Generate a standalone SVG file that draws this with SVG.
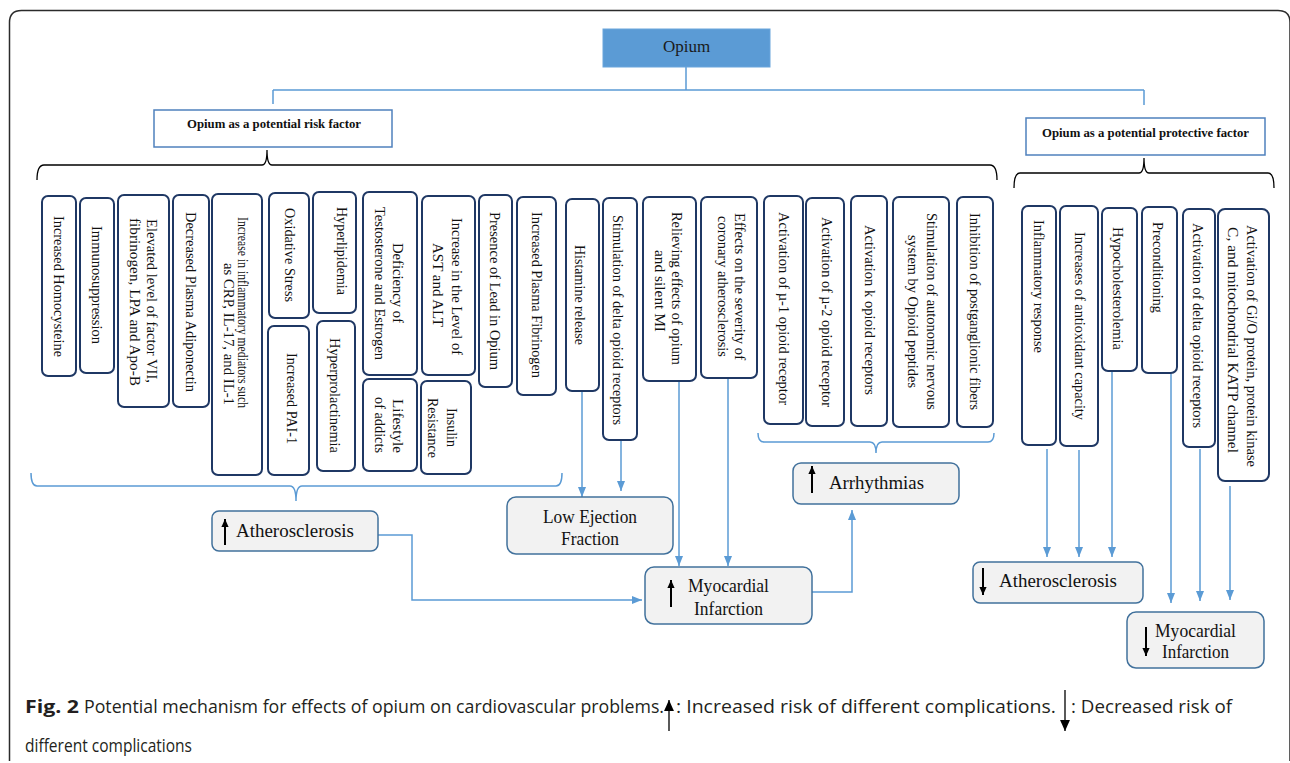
<svg xmlns="http://www.w3.org/2000/svg" width="1290" height="763" viewBox="0 0 1290 763">
<defs>
<style>
.nb{fill:#fff;stroke:#1f3864;stroke-width:2}
.nt{font-family:"Liberation Serif",serif;font-size:14.5px;fill:#111}
.ob{fill:#f2f2f2;stroke:#41719c;stroke-width:1.5}
.ot{font-family:"Liberation Serif",serif;font-size:18.5px;fill:#111}
.hb{fill:#fff;stroke:#4f81bd;stroke-width:1.5}
.ht{font-family:"Liberation Serif",serif;font-size:12.75px;font-weight:bold;fill:#111}
.c{fill:none;stroke:#5b9bd5;stroke-width:1.5}
.br{fill:none;stroke:#000;stroke-width:1.3}
.ba{stroke:#000;stroke-width:2;fill:none}
.cap{font-family:"Open Sans",sans-serif;font-size:18.5px;fill:#231f20}
.capb{font-family:"Open Sans",sans-serif;font-size:18.5px;font-weight:bold;fill:#231f20}
</style>
<marker id="ah" viewBox="0 0 10 10" refX="10" refY="5" markerWidth="10" markerHeight="10" markerUnits="userSpaceOnUse" orient="auto"><path d="M0,1 L10,5 L0,9 z" fill="#5b9bd5"/></marker>
<marker id="bk" viewBox="0 0 10 10" refX="10" refY="5" markerWidth="9" markerHeight="8" markerUnits="userSpaceOnUse" orient="auto"><path d="M0,0.5 L10,5 L0,9.5 z" fill="#000"/></marker>
<marker id="bk2" viewBox="0 0 10 10" refX="10" refY="5" markerWidth="14" markerHeight="11" markerUnits="userSpaceOnUse" orient="auto"><path d="M0,0.5 L10,5 L0,9.5 z" fill="#000"/></marker>
</defs>
<path d="M9.5,761 L9.5,22.5 Q9.5,10.5 21.5,10.5 L1278,10.5 Q1290,10.5 1290,22.5 L1290,761" fill="none" stroke="#2b2b2b" stroke-width="1.5"/>

<g id="connectors">
<path class="c" d="M686,67 V90 M273,90 H1144 M273,90 V104 M1144,90 V105" stroke-width="1.2"/>
<path class="br" d="M37,180 Q37,165 44,165 L262,165 Q267,165 267,150 Q267,165 272,165 L990,165 Q997,165 997,180"/>
<path class="br" d="M1014,188 Q1014,173 1020,173 L1139,173 Q1144,173 1144,158 Q1144,173 1149,173 L1268,173 Q1274,173 1274,188"/>
<path class="c" d="M31,473 Q31,486 37,486 L290,486 Q296,486 296,501 Q296,486 302,486 L556,486 Q562,486 562,473"/>
<path class="c" d="M758,433 Q758,442 764,442 L870,442 Q876,442 876,453 Q876,442 882,442 L988,442 Q994,442 994,433"/>
<path class="c" marker-end="url(#ah)" d="M582,391 V497"/>
<path class="c" marker-end="url(#ah)" d="M621,440 V491"/>
<path class="c" marker-end="url(#ah)" d="M679,381 V566"/>
<path class="c" marker-end="url(#ah)" d="M728,378 V566"/>
<path class="c" marker-end="url(#ah)" d="M378,535 H412 V600 H642"/>
<path class="c" marker-end="url(#ah)" d="M812,592 H852 V510"/>
<path class="c" marker-end="url(#ah)" d="M1047,449 V557"/>
<path class="c" marker-end="url(#ah)" d="M1079,450 V557"/>
<path class="c" marker-end="url(#ah)" d="M1112,372 V557"/>
<path class="c" marker-end="url(#ah)" d="M1171,374 V603"/>
<path class="c" marker-end="url(#ah)" d="M1200,449 V601"/>
<path class="c" marker-end="url(#ah)" d="M1230,486 V600"/>
</g>

<g id="opium"><rect x="603" y="29" width="167" height="38" fill="#5b9bd5" stroke="#6aa5dc" stroke-width="1"/><text x="686.5" y="52" text-anchor="middle" font-family="Liberation Serif,serif" font-size="17" fill="#1a1a1a">Opium</text></g>
<g id="risk"><rect class="hb" x="154" y="110" width="238" height="37"/><text class="ht" x="274" y="128" text-anchor="middle">Opium as a potential risk factor</text></g>
<g id="protective"><rect class="hb" x="1026" y="118" width="239" height="37"/><text class="ht" x="1145.5" y="137" text-anchor="middle">Opium as a potential protective factor</text></g>

<g id="n1"><rect class="nb" x="42" y="196" width="34" height="180" rx="6"/><text class="nt" transform="translate(59,286.5) rotate(90)" text-anchor="middle" dominant-baseline="central" textLength="141" lengthAdjust="spacingAndGlyphs">Increased Homocysteine</text></g>
<g id="n2"><rect class="nb" x="80" y="198" width="34" height="175" rx="6"/><text class="nt" transform="translate(97,285) rotate(90)" text-anchor="middle" dominant-baseline="central" textLength="118" lengthAdjust="spacingAndGlyphs">Immunosuppression</text></g>
<g id="n3"><rect class="nb" x="118" y="195" width="51" height="212" rx="6"/><text class="nt" transform="translate(152,301) rotate(90)" text-anchor="middle" dominant-baseline="central" textLength="164" lengthAdjust="spacingAndGlyphs">Elevated level of factor VII,</text><text class="nt" transform="translate(135,302) rotate(90)" text-anchor="middle" dominant-baseline="central" textLength="168" lengthAdjust="spacingAndGlyphs">fibrinogen, LPA and Apo-B</text></g>
<g id="n4"><rect class="nb" x="173" y="195" width="36" height="212" rx="6"/><text class="nt" transform="translate(191,302) rotate(90)" text-anchor="middle" dominant-baseline="central" textLength="180" lengthAdjust="spacingAndGlyphs">Decreased Plasma Adiponectin</text></g>
<g id="n5"><rect class="nb" x="212" y="194" width="50" height="281" rx="6"/><text class="nt" transform="translate(243,312.5) rotate(90)" text-anchor="middle" dominant-baseline="central" textLength="191" lengthAdjust="spacingAndGlyphs">Increase in inflammatory mediators such</text><text class="nt" transform="translate(229,334) rotate(90)" text-anchor="middle" dominant-baseline="central" textLength="142" lengthAdjust="spacingAndGlyphs">as CRP, IL-17, and IL-1</text></g>
<g id="n6"><rect class="nb" x="269" y="193" width="40" height="125" rx="6"/><text class="nt" transform="translate(290,255) rotate(90)" text-anchor="middle" dominant-baseline="central" textLength="94" lengthAdjust="spacingAndGlyphs">Oxidative Stress</text></g>
<g id="n7"><rect class="nb" x="268" y="326" width="41" height="149" rx="6"/><text class="nt" transform="translate(292,398.5) rotate(90)" text-anchor="middle" dominant-baseline="central" textLength="91" lengthAdjust="spacingAndGlyphs">Increased PAI-1</text></g>
<g id="n8"><rect class="nb" x="313" y="192" width="43" height="121" rx="6"/><text class="nt" transform="translate(342,251) rotate(90)" text-anchor="middle" dominant-baseline="central" textLength="88" lengthAdjust="spacingAndGlyphs">Hyperlipidemia</text></g>
<g id="n9"><rect class="nb" x="317" y="321" width="38" height="150" rx="6"/><text class="nt" transform="translate(335,395.5) rotate(90)" text-anchor="middle" dominant-baseline="central" textLength="115" lengthAdjust="spacingAndGlyphs">Hyperprolactinemia</text></g>
<g id="n10"><rect class="nb" x="363" y="192" width="54" height="183" rx="6"/><text class="nt" transform="translate(398,283) rotate(90)" text-anchor="middle" dominant-baseline="central" textLength="80" lengthAdjust="spacingAndGlyphs">Deficiency of</text><text class="nt" transform="translate(380,283.5) rotate(90)" text-anchor="middle" dominant-baseline="central" textLength="153" lengthAdjust="spacingAndGlyphs">Testosterone and Estrogen</text></g>
<g id="n11"><rect class="nb" x="363" y="379" width="54" height="92" rx="6"/><text class="nt" transform="translate(398,426) rotate(90)" text-anchor="middle" dominant-baseline="central" textLength="54" lengthAdjust="spacingAndGlyphs">Lifestyle</text><text class="nt" transform="translate(380,425) rotate(90)" text-anchor="middle" dominant-baseline="central" textLength="56" lengthAdjust="spacingAndGlyphs">of addicts</text></g>
<g id="n12"><rect class="nb" x="422" y="196" width="53" height="179" rx="6"/><text class="nt" transform="translate(457,286.5) rotate(90)" text-anchor="middle" dominant-baseline="central" textLength="137" lengthAdjust="spacingAndGlyphs">Increase in the Level of</text><text class="nt" transform="translate(438,285) rotate(90)" text-anchor="middle" dominant-baseline="central" textLength="84" lengthAdjust="spacingAndGlyphs">AST and ALT</text></g>
<g id="n13"><rect class="nb" x="421" y="381" width="50" height="93" rx="6"/><text class="nt" transform="translate(452,427.5) rotate(90)" text-anchor="middle" dominant-baseline="central" textLength="39" lengthAdjust="spacingAndGlyphs">Insulin</text><text class="nt" transform="translate(433,428) rotate(90)" text-anchor="middle" dominant-baseline="central" textLength="60" lengthAdjust="spacingAndGlyphs">Resistance</text></g>
<g id="n14"><rect class="nb" x="479" y="195" width="33" height="192" rx="6"/><text class="nt" transform="translate(495,291) rotate(90)" text-anchor="middle" dominant-baseline="central" textLength="158" lengthAdjust="spacingAndGlyphs">Presence of Lead in Opium</text></g>
<g id="n15"><rect class="nb" x="517" y="197" width="39" height="198" rx="6"/><text class="nt" transform="translate(537,295) rotate(90)" text-anchor="middle" dominant-baseline="central" textLength="166" lengthAdjust="spacingAndGlyphs">Increased Plasma Fibrinogen</text></g>
<g id="n16"><rect class="nb" x="566" y="199" width="33" height="192" rx="6"/><text class="nt" transform="translate(580,295) rotate(90)" text-anchor="middle" dominant-baseline="central" textLength="100" lengthAdjust="spacingAndGlyphs">Histamine release</text></g>
<g id="n17"><rect class="nb" x="603" y="198" width="34" height="242" rx="6"/><text class="nt" transform="translate(618,320) rotate(90)" text-anchor="middle" dominant-baseline="central" textLength="210" lengthAdjust="spacingAndGlyphs">Stimulation of delta opioid receptors</text></g>
<g id="n18"><rect class="nb" x="643" y="197" width="53" height="184" rx="6"/><text class="nt" transform="translate(677,288.5) rotate(90)" text-anchor="middle" dominant-baseline="central" textLength="153" lengthAdjust="spacingAndGlyphs">Relieving effects of opium</text><text class="nt" transform="translate(660,291) rotate(90)" text-anchor="middle" dominant-baseline="central" textLength="82" lengthAdjust="spacingAndGlyphs">and silent MI</text></g>
<g id="n19"><rect class="nb" x="701" y="197" width="56" height="181" rx="6"/><text class="nt" transform="translate(740,286.5) rotate(90)" text-anchor="middle" dominant-baseline="central" textLength="147" lengthAdjust="spacingAndGlyphs">Effects on the severity of</text><text class="nt" transform="translate(723,286.5) rotate(90)" text-anchor="middle" dominant-baseline="central" textLength="141" lengthAdjust="spacingAndGlyphs">coronary atherosclerosis</text></g>
<g id="n20"><rect class="nb" x="764" y="196" width="39" height="228" rx="6"/><text class="nt" transform="translate(784,308.5) rotate(90)" text-anchor="middle" dominant-baseline="central" textLength="193" lengthAdjust="spacingAndGlyphs">Activation of µ-1 opioid receptor</text></g>
<g id="n21"><rect class="nb" x="806" y="198" width="38" height="228" rx="6"/><text class="nt" transform="translate(827,312) rotate(90)" text-anchor="middle" dominant-baseline="central" textLength="190" lengthAdjust="spacingAndGlyphs">Activation of µ-2 opioid receptor</text></g>
<g id="n22"><rect class="nb" x="851" y="196" width="36" height="230" rx="6"/><text class="nt" transform="translate(870,310) rotate(90)" text-anchor="middle" dominant-baseline="central" textLength="170" lengthAdjust="spacingAndGlyphs">Activation k opioid receptors</text></g>
<g id="n23"><rect class="nb" x="893" y="197" width="56" height="230" rx="6"/><text class="nt" transform="translate(932,311.5) rotate(90)" text-anchor="middle" dominant-baseline="central" textLength="197" lengthAdjust="spacingAndGlyphs">Stimulation of autonomic nervous</text><text class="nt" transform="translate(913,311.5) rotate(90)" text-anchor="middle" dominant-baseline="central" textLength="153" lengthAdjust="spacingAndGlyphs">system by Opioid peptides</text></g>
<g id="n24"><rect class="nb" x="957" y="197" width="36" height="230" rx="6"/><text class="nt" transform="translate(975,311.5) rotate(90)" text-anchor="middle" dominant-baseline="central" textLength="197" lengthAdjust="spacingAndGlyphs">Inhibition of postganglionic fibers</text></g>
<g id="n25"><rect class="nb" x="1022" y="206" width="34" height="239" rx="6"/><text class="nt" transform="translate(1039,286.5) rotate(90)" text-anchor="middle" dominant-baseline="central" textLength="133" lengthAdjust="spacingAndGlyphs">Inflammatory response</text></g>
<g id="n26"><rect class="nb" x="1060" y="206" width="38" height="240" rx="6"/><text class="nt" transform="translate(1080,326) rotate(90)" text-anchor="middle" dominant-baseline="central" textLength="188" lengthAdjust="spacingAndGlyphs">Increases of antioxidant capacity</text></g>
<g id="n27"><rect class="nb" x="1102" y="208" width="35" height="163" rx="6"/><text class="nt" transform="translate(1118,288.5) rotate(90)" text-anchor="middle" dominant-baseline="central" textLength="123" lengthAdjust="spacingAndGlyphs">Hypocholesterolemia</text></g>
<g id="n28"><rect class="nb" x="1142" y="207" width="35" height="166" rx="6"/><text class="nt" transform="translate(1158,267.5) rotate(90)" text-anchor="middle" dominant-baseline="central" textLength="91" lengthAdjust="spacingAndGlyphs">Preconditioning</text></g>
<g id="n29"><rect class="nb" x="1183" y="209" width="32" height="238" rx="6"/><text class="nt" transform="translate(1198,325.5) rotate(90)" text-anchor="middle" dominant-baseline="central" textLength="205" lengthAdjust="spacingAndGlyphs">Activation of delta opioid receptors</text></g>
<g id="n30"><rect class="nb" x="1218" y="209" width="51" height="272" rx="7"/><text class="nt" transform="translate(1252,346) rotate(90)" text-anchor="middle" dominant-baseline="central" textLength="242" lengthAdjust="spacingAndGlyphs">Activation of Gi/O protein, protein kinase</text><text class="nt" transform="translate(1233,340) rotate(90)" text-anchor="middle" dominant-baseline="central" textLength="226" lengthAdjust="spacingAndGlyphs">C, and mitochondrial KATP channel</text></g>

<g id="athero-up"><rect class="ob" x="212" y="511" width="166" height="40" rx="7"/><path class="ba" marker-end="url(#bk)" d="M225,545 V519"/><text class="ot" x="236" y="537" textLength="118" lengthAdjust="spacingAndGlyphs">Atherosclerosis</text></g>
<g id="lef"><rect class="ob" x="507" y="497" width="166" height="57" rx="9"/><text class="ot" x="590" y="523" text-anchor="middle" textLength="94" lengthAdjust="spacingAndGlyphs">Low Ejection</text><text class="ot" x="590" y="545" text-anchor="middle" textLength="58" lengthAdjust="spacingAndGlyphs">Fraction</text></g>
<g id="mi-up"><rect class="ob" x="645" y="567" width="167" height="57" rx="9"/><path class="ba" marker-end="url(#bk)" d="M671,607 V580"/><text class="ot" x="688" y="592" textLength="81" lengthAdjust="spacingAndGlyphs">Myocardial</text><text class="ot" x="694" y="615" textLength="69" lengthAdjust="spacingAndGlyphs">Infarction</text></g>
<g id="arrhythmias"><rect class="ob" x="793" y="463" width="166" height="41" rx="8"/><path class="ba" marker-end="url(#bk)" d="M812,493 V466"/><text class="ot" x="829" y="489" textLength="95" lengthAdjust="spacingAndGlyphs">Arrhythmias</text></g>
<g id="athero-down"><rect class="ob" x="973" y="562" width="170" height="41" rx="7"/><path class="ba" marker-end="url(#bk)" d="M983,568 V595"/><text class="ot" x="999" y="587" textLength="118" lengthAdjust="spacingAndGlyphs">Atherosclerosis</text></g>
<g id="mi-down"><rect class="ob" x="1127" y="612" width="137" height="56" rx="9"/><path class="ba" marker-end="url(#bk)" d="M1146,627 V656"/><text class="ot" x="1155" y="637" textLength="81" lengthAdjust="spacingAndGlyphs">Myocardial</text><text class="ot" x="1162" y="658" textLength="67" lengthAdjust="spacingAndGlyphs">Infarction</text></g>

<g id="caption">
<text class="capb" x="25" y="713" textLength="54" lengthAdjust="spacingAndGlyphs">Fig. 2</text>
<text class="cap" x="84" y="713" textLength="580" lengthAdjust="spacingAndGlyphs">Potential mechanism for effects of opium on cardiovascular problems.</text>
<path d="M669,731 V700" stroke="#000" stroke-width="1.3" marker-end="url(#bk2)"/>
<text class="cap" x="676" y="713" textLength="380" lengthAdjust="spacingAndGlyphs">: Increased risk of different complications.</text>
<path d="M1065,690 V731" stroke="#000" stroke-width="1.3" marker-end="url(#bk2)"/>
<text class="cap" x="1071" y="713" textLength="161" lengthAdjust="spacingAndGlyphs">: Decreased risk of</text>
<text class="cap" x="25" y="752" textLength="167" lengthAdjust="spacingAndGlyphs">different complications</text>
</g>
</svg>
